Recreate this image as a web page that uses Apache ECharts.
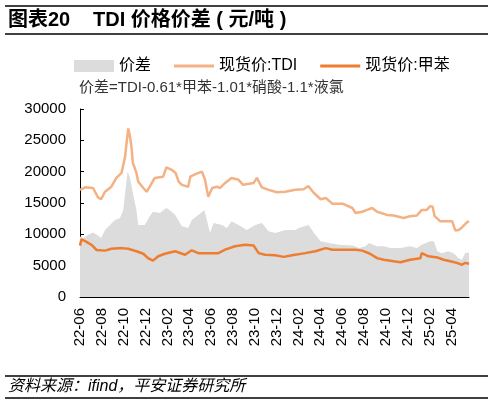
<!DOCTYPE html>
<html><head><meta charset="utf-8">
<script src="https://cdn.jsdelivr.net/npm/echarts@6/dist/echarts.min.js"></script>
<style>html,body{margin:0;padding:0;background:#fff}#c{width:494px;height:404px}</style>
</head><body><div id="c"></div>
<script>
const FONT = 'Liberation Sans, Arial, Noto Sans CJK SC, sans-serif';
const tdiDates = ['2022-06-01','2022-06-15','2022-07-07','2022-07-21','2022-07-30','2022-08-10','2022-08-28','2022-09-11','2022-09-25','2022-09-30','2022-10-05','2022-10-09','2022-10-14','2022-10-18','2022-10-23','2022-10-27','2022-11-06','2022-11-11','2022-11-25','2022-12-04','2022-12-13','2022-12-27','2023-01-20','2023-01-29','2023-02-12','2023-02-22','2023-03-02','2023-03-11','2023-03-29','2023-04-04','2023-04-18','2023-05-06','2023-05-15','2023-05-20','2023-05-24','2023-06-04','2023-06-17','2023-06-26','2023-07-10','2023-07-28','2023-08-17','2023-08-30','2023-09-28','2023-10-07','2023-10-21','2023-11-09','2023-11-27','2023-12-03','2023-12-26','2024-01-23','2024-02-15','2024-02-27','2024-03-14','2024-04-02','2024-04-16','2024-05-04','2024-06-02','2024-06-29','2024-07-08','2024-07-27','2024-08-10','2024-08-24','2024-09-07','2024-10-04','2024-10-23','2024-11-20','2024-12-08','2024-12-27','2025-01-10','2025-01-24','2025-02-03','2025-02-09','2025-02-14','2025-02-28','2025-03-19','2025-04-03','2025-04-12','2025-04-21','2025-04-30','2025-05-14','2025-05-20'];
const tdiValues = [17100,17500,17400,15900,15600,16800,17600,19000,19800,20000,22400,24500,26900,25900,24000,21400,19800,18400,17400,16800,17600,19000,19200,20700,20300,19800,18400,17900,17600,19200,19600,20000,18700,17100,16000,17400,17600,17400,18200,19000,18700,17900,18200,19000,17500,17100,16800,16700,16800,17100,17200,17700,16600,15600,15800,14900,14900,14200,13400,13600,13900,14200,13600,13100,13000,12600,12900,13000,13900,13900,14500,14400,12900,12100,12100,12100,10600,10700,11100,11900,12100];
const tolDates = ['2022-06-01','2022-06-05','2022-06-19','2022-07-03','2022-07-17','2022-08-10','2022-08-28','2022-09-25','2022-10-14','2022-11-06','2022-11-25','2022-12-08','2022-12-22','2023-01-06','2023-01-25','2023-02-21','2023-03-20','2023-04-08','2023-04-26','2023-05-15','2023-06-21','2023-07-10','2023-08-07','2023-09-05','2023-09-28','2023-10-12','2023-10-30','2023-11-27','2023-12-21','2024-01-14','2024-02-19','2024-03-18','2024-04-16','2024-05-04','2024-07-08','2024-07-27','2024-08-18','2024-09-07','2024-09-25','2024-10-23','2024-11-11','2024-12-08','2025-01-06','2025-01-10','2025-01-29','2025-02-21','2025-03-10','2025-03-29','2025-04-16','2025-04-30','2025-05-09','2025-05-20'];
const tolValues = [8200,9200,8800,8300,7500,7400,7700,7800,7700,7300,6900,6200,5800,6500,6900,7300,6750,7450,7000,7000,7000,7550,8100,8350,8200,7000,6750,6650,6400,6650,7000,7300,7800,7550,7550,7400,6900,6200,5950,5700,5550,5950,6200,7000,6500,6300,5950,5700,5450,5150,5450,5300];
const spreadDates = ['2022-06-01','2022-06-10','2022-06-24','2022-07-07','2022-07-21','2022-07-30','2022-08-10','2022-08-24','2022-09-07','2022-09-21','2022-09-30','2022-10-05','2022-10-12','2022-10-18','2022-10-27','2022-11-06','2022-11-11','2022-11-29','2022-12-13','2022-12-22','2023-01-11','2023-01-29','2023-02-07','2023-02-21','2023-03-11','2023-03-29','2023-04-08','2023-04-26','2023-05-13','2023-05-20','2023-05-29','2023-06-08','2023-07-01','2023-07-15','2023-07-28','2023-08-17','2023-09-09','2023-10-02','2023-10-21','2023-11-09','2023-11-27','2023-12-26','2024-01-23','2024-02-02','2024-02-28','2024-03-14','2024-04-02','2024-04-25','2024-05-23','2024-06-29','2024-07-18','2024-08-05','2024-08-15','2024-09-07','2024-09-25','2024-10-14','2024-11-11','2024-12-08','2024-12-27','2025-01-10','2025-02-03','2025-02-12','2025-02-21','2025-03-05','2025-03-23','2025-04-07','2025-04-21','2025-04-30','2025-05-09','2025-05-20'];
const spreadValues = [9650,9400,9950,10300,9800,9400,10700,11500,12300,12600,13900,16600,20000,19200,16600,13900,11500,11500,12900,13600,13400,14200,13900,13100,11300,11000,12300,13100,13900,12300,10200,11800,11500,11000,12100,11500,10700,11500,11800,10500,10200,10700,10700,11000,11500,10200,8900,8600,8350,8200,7800,8100,8600,8100,8100,7800,7800,8100,7800,8350,8900,8900,7300,7000,7300,7000,6200,5950,7000,7100];
const xTickMonths = [0,2,4,6,8,10,12,14,16,18,20,22,24,26,28,30,32,34];
const AXIS_END = '2025-05-20';

function mi(d){const p=d.split('-').map(Number);const dim=new Date(p[0],p[1],0).getDate();return (p[0]-2022)*12+(p[1]-6)+(p[2]-1)/dim;}
function pairs(ds,vs){return ds.map((d,i)=>[mi(d),vs[i]]);}
function lbl(v){const k=Math.round(v)+5;const y=22+Math.floor(k/12);const m=k%12+1;return y+'-'+(m<10?'0':'')+m;}
const LINE_ICON = 'path://M0,0M40,12M0,4.5L40,4.5L40,7.5L0,7.5Z';

const chart = echarts.init(document.getElementById('c'),null,{renderer:'canvas'});
chart.setOption({
  animation:false,
  textStyle:{fontFamily:FONT,color:'#000'},
  grid:{left:80,right:25,top:109,bottom:107,containLabel:false},
  legend:{left:69,top:53,itemWidth:40,itemHeight:12,itemGap:23,
    textStyle:{fontSize:16,color:'#000',fontFamily:FONT},
    data:[{name:'价差',icon:'rect'},{name:'现货价:TDI',icon:LINE_ICON},{name:'现货价:甲苯',icon:LINE_ICON}]},
  xAxis:{type:'value',min:0,max:mi(AXIS_END),
    axisLine:{lineStyle:{color:'#000',width:1}},
    axisTick:{inside:true,length:4,lineStyle:{color:'#000'},customValues:xTickMonths},
    axisLabel:{rotate:90,fontSize:15,color:'#000',margin:11,customValues:xTickMonths,formatter:lbl},
    splitLine:{show:false}},
  yAxis:{type:'value',min:0,max:30000,interval:5000,
    axisLine:{show:true,lineStyle:{color:'#000',width:1}},
    axisTick:{show:true,inside:true,length:4,lineStyle:{color:'#000'}},
    axisLabel:{fontSize:15,color:'#000',margin:14,formatter:function(v){return String(v);}},
    splitLine:{show:false}},
  series:[
    {name:'价差',type:'line',data:pairs(spreadDates,spreadValues),symbol:'none',
     color:'#DCDCDC',lineStyle:{width:0},areaStyle:{color:'#DCDCDC',opacity:1},z:1},
    {name:'现货价:TDI',type:'line',data:pairs(tdiDates,tdiValues),symbol:'none',
     color:'#F4B183',lineStyle:{width:2.5,color:'#F4B183'},z:2},
    {name:'现货价:甲苯',type:'line',data:pairs(tolDates,tolValues),symbol:'none',
     color:'#ED7D31',lineStyle:{width:2.5,color:'#ED7D31'},z:3}
  ],
  graphic:[
    {type:'line',shape:{x1:5,y1:6,x2:488,y2:6},style:{stroke:'#000',lineWidth:1.5}},
    {type:'text',left:8,top:10,style:{text:'图表20',font:'bold 20px '+FONT,fill:'#000'}},
    {type:'text',left:93,top:10,style:{text:'TDI 价格价差 ( 元/吨 )',font:'bold 20px '+FONT,fill:'#000'}},
    {type:'line',shape:{x1:5,y1:34,x2:488,y2:34},style:{stroke:'#000',lineWidth:1.5}},
    {type:'text',left:79,top:80,style:{text:'价差=TDI-0.61*甲苯-1.01*硝酸-1.1*液氯',font:'15px '+FONT,fill:'#333'}},
    {type:'line',shape:{x1:5,y1:376,x2:488,y2:376},style:{stroke:'#000',lineWidth:1.5}},
    {type:'text',left:8,top:379,style:{text:'资料来源：ifind，平安证券研究所',font:'italic 16px '+FONT,fill:'#000'}},
    {type:'line',shape:{x1:5,y1:398,x2:488,y2:398},style:{stroke:'#000',lineWidth:1.5}}
  ]
});
</script></body></html>
